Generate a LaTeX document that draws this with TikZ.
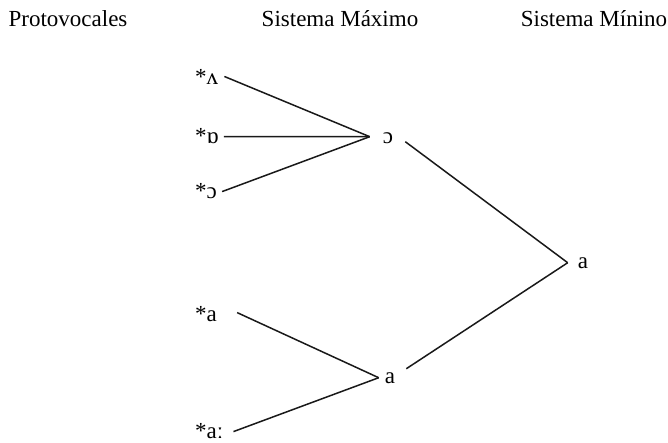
\documentclass[tikz,border=0pt]{standalone}
\usepackage{fontspec}
\setmainfont{Liberation Serif}
\begin{document}
\begin{tikzpicture}[x=1pt,y=-1pt,
  lbl/.style={inner sep=0pt,anchor=base west,font=\fontsize{23}{27}\selectfont},
  head/.style={inner sep=0pt,anchor=base,font=\fontsize{23}{27}\selectfont},
  vow/.style={inner sep=0pt,anchor=base,font=\fontsize{23}{27}\selectfont},
  conn/.style={line width=1.5pt,black!90}]
\useasboundingbox (0,0) rectangle (668,442);
% headers
\node[head] (h1) at (68,26) {Protovocales};
\node[head] (h2) at (340,26) {Sistema Máximo};
\node[head] (h3) at (594,26) {Sistema Mínino};
% protovowels
\node[lbl] (p1) at (195,84) {*ʌ};
\node[lbl] (p2) at (195,143) {*ɒ};
\node[lbl] (p3) at (195,198) {*ɔ};
\node[lbl] (p4) at (195,321) {*a};
\node[lbl] (p5) at (195,438) {*aː};
% maximal system
\node[vow] (m1) at (388,143) {ɔ};
\node[vow] (m2) at (390,383) {a};
% minimal system
\node[vow] (n1) at (583,268) {a};
% connectors
\coordinate (c1) at ([shift={(-13pt,1pt)}]m1.west);
\draw[conn] ([xshift=6pt]p1.east) -- (c1);
\draw[conn] ([shift={(5pt,-1pt)}]p2.east) -- (c1);
\draw[conn] ([shift={(5pt,-1pt)}]p3.east) -- (c1);
\draw[conn] ([shift={(20pt,1pt)}]p4.east) -- ([xshift=-6pt]m2.west);
\draw[conn] ([shift={(10pt,-1pt)}]p5.east) -- ([xshift=-6pt]m2.west);
\draw[conn] ([shift={(12pt,-4pt)}]m1.east) -- ([xshift=-10pt]n1.west);
\draw[conn] ([shift={(11pt,9pt)}]m2.east) -- ([xshift=-10pt]n1.west);
\end{tikzpicture}
\end{document}
